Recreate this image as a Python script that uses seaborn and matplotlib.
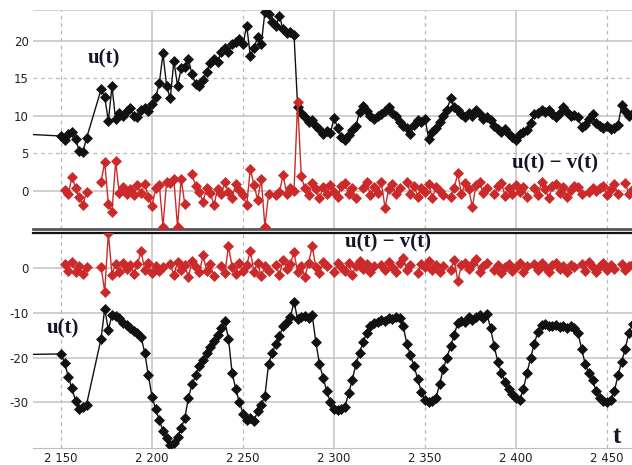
import numpy as np
import pandas as pd
import seaborn as sns
import matplotlib.pyplot as plt

nan = np.nan

# time grid of the samples (every 2 units)
t = np.arange(2150, 2466, 2)

# upper panel: u(t) and u(t) - v(t)
top_u = [7.3, 6.8, 7.6, 7.8, 6.9, 5.3, 5.2, 7.0, nan, nan,
         nan, 13.5, 12.5, 9.3, 13.9, 9.5, 10.3, 10.0, 10.6, 11.0,
         10.0, 9.8, 10.8, 11.0, 10.6, 11.5, 12.5, 14.3, 18.3, 14.0,
         12.3, 17.3, 14.0, 16.3, 16.5, 17.5, 15.5, 14.2, 14.0, 14.8,
         15.8, 17.0, 17.5, 17.2, 18.5, 19.0, 18.5, 19.5, 19.8, 20.2,
         19.5, 22.0, 18.0, 19.0, 20.5, 19.5, 23.8, 23.6, 22.5, 22.0,
         23.3, 21.5, 21.0, 21.2, 20.8, 11.2, 10.4, 9.8, 9.2, 9.4,
         8.6, 8.2, 7.5, 8.0, 7.7, 9.7, 8.4, 7.2, 6.8, 7.4,
         8.1, 8.6, 10.5, 11.3, 10.6, 10.0, 9.6, 9.9, 10.2, 10.6,
         11.2, 10.3, 10.0, 9.2, 8.6, 8.4, 7.5, 8.8, 9.4, 9.1,
         9.6, 6.9, 7.8, 8.3, 9.2, 9.9, 10.8, 12.3, 11.2, 10.8,
         10.2, 9.8, 10.4, 10.0, 10.8, 10.2, 9.6, 9.8, 9.4, 8.6,
         8.2, 7.8, 8.2, 7.6, 7.2, 6.8, 7.6, 7.8, 8.1, 9.0,
         10.2, 10.4, 10.8, 10.5, 10.8, 10.2, 9.8, 10.4, 11.2, 10.5,
         9.9, 10.1, 9.8, 8.5, 8.8, 9.5, 10.2, 9.0, 8.6, 8.3,
         8.6, 8.2, 8.4, 8.7, 11.4, 10.6, 9.9, 10.3]
top_d = [nan, 0.1, -0.4, 1.8, 0.4, -0.9, -1.9, -0.2, nan, nan,
         nan, 1.2, 3.8, -1.8, -2.8, 3.9, -0.3, 0.5, -0.4, 0.2,
         -0.6, 0.7, -0.3, 0.9, -0.8, -2.0, 0.3, 0.8, -4.8, 1.2,
         1.0, 1.5, -4.8, 1.6, -1.8, nan, 2.2, 0.6, -0.2, -1.5,
         0.4, -0.3, -1.9, 0.2, -0.4, 1.1, -0.2, -1.0, 0.9, 0.1,
         -0.6, -1.9, 2.9, 0.8, -1.2, 1.6, -4.8, -0.5, nan, -0.6,
         -0.2, 2.1, -0.4, 0.4, 0.0, 11.8, 1.9, 0.3, -0.6, 1.0,
         0.2, -1.0, 0.5, -0.4, 0.8, -0.2, -0.8, 0.6, 1.0, -0.4,
         0.3, -1.0, nan, 0.4, 1.2, -0.6, 0.5, -0.3, 1.1, -2.3,
         0.2, 0.9, -0.5, 0.3, nan, 1.2, -0.4, 0.6, -0.8, 0.4,
         -0.2, 0.9, -1.0, 0.5, 0.0, -0.6, nan, -0.8, 0.4, 2.3,
         -0.5, 1.0, 0.2, -2.2, 0.8, 1.1, -0.3, 0.4, nan, -0.5,
         0.6, 1.0, -0.7, 0.3, -0.4, 0.8, -0.2, 0.5, -0.8, nan,
         0.4, -0.6, 1.1, 0.2, -1.0, 0.6, 0.9, -0.3, 0.5, -0.8,
         0.1, 0.6, 0.5, -0.4, nan, -0.2, 0.4, -0.1, 0.3, 0.6,
         -0.6, 0.2, 0.9, -0.5, nan, 1.0, -0.4, 0.2]

# lower panel: u(t) and u(t) - v(t)
bot_u = [-19.2, -21.2, -24.3, -26.9, -29.7, -31.4, -31.0, -30.5, nan, nan,
         nan, -15.8, -9.1, -13.9, -10.4, -10.8, -11.2, -12.3, -12.8, -13.5,
         -14.0, -14.6, -15.4, -19.0, -24.0, -28.8, -31.5, -34.0, -36.3, -38.0,
         -39.5, -39.0, -37.8, -35.8, -33.5, -29.0, -26.0, -24.0, -22.0, -20.5,
         -19.0, -17.6, -16.3, -15.0, -13.5, -11.9, -15.8, -23.5, -27.0, -30.0,
         -32.5, -34.0, -33.4, -34.2, -32.0, -30.5, -28.6, -21.5, -19.0, -17.0,
         -15.2, -13.0, -12.0, -11.0, -7.5, -11.5, -11.0, -10.8, -11.2, -10.6,
         -16.5, -21.5, -24.5, -27.5, -30.0, -31.5, -31.8, -31.6, -31.0, -28.0,
         -25.0, -21.5, -19.0, -16.5, -14.5, -13.0, -12.2, -12.0, -11.6, -11.8,
         -11.2, -11.4, -11.0, -11.1, -13.0, -17.0, -19.5, -22.0, -24.8, -27.8,
         -29.5, -30.0, -29.8, -29.0, -26.0, -22.5, -20.0, -17.5, -15.0, -12.2,
         -11.8, -12.0, -11.0, -11.6, -11.0, -10.6, -11.2, -10.2, -13.5, -17.5,
         -21.0, -23.5, -25.5, -27.0, -28.2, -29.0, -29.5, -27.0, -23.5, -20.0,
         -17.0, -14.2, -12.8, -12.6, -12.9, -13.0, -12.8, -13.2, -13.0, -13.3,
         -13.0, -13.4, -14.5, -18.0, -21.5, -23.5, -25.0, -27.5, -29.0, -29.8,
         -30.0, -29.5, -27.5, -24.0, -21.0, -18.0, -14.5, -12.5]
bot_d = [nan, 0.8, -0.6, 1.4, -1.0, 0.5, -1.3, 0.3, nan, nan,
         nan, 0.2, -5.3, 7.8, -1.5, 0.9, -0.8, 1.2, -0.3, 0.6,
         -1.4, 0.8, 3.8, -0.5, 1.0, -1.2, 0.4, -0.6, 0.2, nan,
         0.9, -1.6, 1.3, -0.4, 0.6, -2.0, 1.5, 0.2, -1.0, 2.8,
         -0.6, 0.8, -1.8, nan, 0.5, -1.2, 4.8, 0.3, -1.4, 1.0,
         -0.6, 0.7, 3.7, -0.8, 1.2, -1.9, 0.4, -0.7, nan, 0.6,
         -1.5, 1.8, -0.2, 0.9, 3.5, -1.0, 0.5, -2.0, 1.1, 4.8,
         0.2, -1.2, 1.4, 0.5, nan, -0.8, 1.0, 0.2, -0.6, 1.2,
         -1.5, 0.4, 1.6, -0.3, 0.8, -1.0, 0.5, nan, 0.7, -0.4,
         1.3, 0.1, -0.8, 1.0, 2.2, -0.5, 0.6, nan, -1.2, 0.9,
         0.1, 1.5, -0.4, 0.7, -0.9, 0.4, nan, -0.5, 1.8, -2.9,
         0.6, 1.2, -0.3, 0.8, 2.0, -0.9, 0.5, 1.1, nan, -0.4,
         0.7, -1.1, 0.3, 0.9, -0.6, 0.2, 1.0, -0.8, 0.4, nan,
         0.8, -0.5, 1.2, 0.1, -0.9, 0.6, 1.0, -0.3, 0.5, -1.0,
         0.7, 0.2, nan, 0.9, -0.6, 1.4, 0.3, -0.8, 0.5, 1.0,
         -0.4, 0.6, -0.2, nan, 0.8, -0.5, 0.4, 0.9]

# flat start of u(t) before the first sample
lead_t = [2134, 2150]
top_lead = [7.5, 7.3]
bot_lead = [-19.3, -19.2]

x_ticks = [2150, 2200, 2250, 2300, 2350, 2400, 2450]
x_labels = ["2 150", "2 200", "2 250", "2 300", "2 350", "2 400", "2 450"]
top_ticks = [0, 5, 10, 15, 20]
bot_ticks = [0, -10, -20, -30]

BLACK = "#111111"
RED = "#cc2a2a"
TXT = "#15152a"
GRID = "#c6c1ba"
GRID_DASH = "#b8b8b8"


def frame(values, broken):
    df = pd.DataFrame({"t": t, "v": values})
    # red curves stop at missing samples, black ones are joined across them
    df["seg"] = df["v"].isna().cumsum() if broken else 0
    return df.dropna()


def draw(ax, values, color, broken):
    sns.lineplot(data=frame(values, broken), x="t", y="v", units="seg",
                 estimator=None, color=color, linewidth=1.0, marker="D",
                 markersize=4.6, markeredgecolor=color, markeredgewidth=0.5,
                 legend=False, ax=ax, zorder=3)


sns.set_style("white")
fig = plt.figure(figsize=(6.32, 4.65), dpi=100)
ax1 = fig.add_axes([33 / 632, 236 / 465, 599 / 632, 219 / 465])
ax2 = fig.add_axes([33 / 632, 17 / 465, 599 / 632, 215 / 465])

sns.lineplot(x=lead_t, y=top_lead, color=BLACK, linewidth=1.0, ax=ax1)
sns.lineplot(x=lead_t, y=bot_lead, color=BLACK, linewidth=1.0, ax=ax2)
draw(ax1, top_u, BLACK, False)
draw(ax1, top_d, RED, True)
draw(ax2, bot_d, RED, True)
draw(ax2, bot_u, BLACK, False)

ax1.set_ylim(-5.1, 24.1)
ax2.set_ylim(-40.2, 7.8)

for ax in (ax1, ax2):
    ax.set_xlim(2134.6, 2463.7)
    ax.set_xlabel("")
    ax.set_ylabel("")
    for xv in x_ticks:
        if xv % 100 == 0:
            ax.axvline(xv, color=GRID, lw=1.1, zorder=1)
        else:
            ax.axvline(xv, color=GRID_DASH, lw=0.9, ls=(0, (3, 3)), zorder=1)
    ax.spines["left"].set_visible(False)
    ax.spines["right"].set_visible(False)
    ax.tick_params(length=0, labelsize=8.5, labelcolor="#222222", pad=3)

for yv in [0, 10, 20]:
    ax1.axhline(yv, color=GRID, lw=1.1, zorder=1)
for yv in [5, 15]:
    ax1.axhline(yv, color=GRID_DASH, lw=0.9, ls=(0, (3, 3)), zorder=1)
for yv in bot_ticks:
    ax2.axhline(yv, color=GRID, lw=1.1, zorder=1)

ax1.set_yticks(top_ticks)
ax1.set_yticklabels([str(v) for v in top_ticks])
ax1.set_xticks(x_ticks)
ax1.set_xticklabels([])
ax2.set_yticks(bot_ticks)
ax2.set_yticklabels([str(v) for v in bot_ticks])
ax2.set_xticks(x_ticks)
ax2.set_xticklabels(x_labels)

ax1.spines["top"].set_color("#d8d4d0")
ax1.spines["bottom"].set_color("#555555")
ax1.spines["bottom"].set_linewidth(2.0)
ax2.spines["top"].set_color("#111111")
ax2.spines["top"].set_linewidth(1.6)
ax2.spines["bottom"].set_color("#bdbdbd")

serif = ["Liberation Serif", "DejaVu Serif"]
lab = dict(family=serif, fontweight="bold", color=TXT, ha="center", va="center", zorder=5)
ax1.text(2173.6, 17.7, "u(t)", fontsize=15, **lab)
ax1.text(2421.4, 3.7, "u(t) \u2212 v(t)", fontsize=15, **lab)
ax2.text(2329.7, 5.6, "u(t) \u2212 v(t)", fontsize=15, **lab)
ax2.text(2151.1, -13.6, "u(t)", fontsize=15, **lab)
ax2.text(2455.5, -37.6, "t", fontsize=18, **lab)

fig.savefig("out.png", dpi=100)
